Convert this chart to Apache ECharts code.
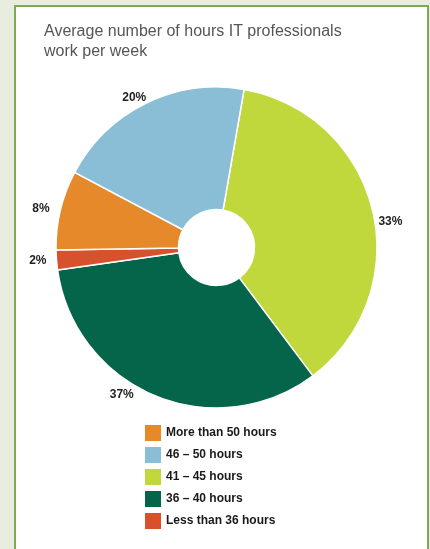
<!DOCTYPE html>
<html>
<head>
<meta charset="utf-8">
<script src="https://cdn.jsdelivr.net/npm/echarts@6/dist/echarts.min.js"></script>
<style>
  html, body { margin: 0; padding: 0; background: #e9eddf; width: 430px; height: 549px; overflow: hidden; }
  #panel { position: absolute; left: 14px; top: 5px; width: 411px; height: 560px; background: #ffffff; border: 2px solid #7bab54; }
  #chart { position: absolute; left: 0; top: 0; width: 430px; height: 549px; }
</style>
</head>
<body>
<div id="panel"></div>
<div id="chart"></div>
<script>
// Slices in clockwise order starting near 12 o'clock
const categories = ['41 – 45 hours', '36 – 40 hours', 'Less than 36 hours', 'More than 50 hours', '46 – 50 hours'];
const values = [37, 33, 2, 8, 20];
const labelTexts = ['33%', '37%', '2%', '8%', '20%'];
const colors = ['#c0d83b', '#05654a', '#d8512d', '#e5892a', '#8abed6'];
const legendOrder = ['More than 50 hours', '46 – 50 hours', '41 – 45 hours', '36 – 40 hours', 'Less than 36 hours'];

const FONT = '"Liberation Sans", Arial, Helvetica, sans-serif';
const labelNudge = [[-5, 13], [-14, -7], [1, 0], [0, 0], [8, 0]];

const chart = echarts.init(document.getElementById('chart'), null, { renderer: 'canvas' });
chart.setOption({
  backgroundColor: 'transparent',
  animation: false,
  title: {
    text: 'Average number of hours IT professionals\nwork per week',
    left: 44,
    top: 22,
    padding: 0,
    textStyle: { color: '#555658', fontSize: 16, fontWeight: 'normal', fontFamily: FONT, lineHeight: 20 }
  },
  legend: {
    orient: 'vertical',
    left: 145,
    top: 425,
    padding: 0,
    itemWidth: 16,
    itemHeight: 16,
    itemGap: 6,
    icon: 'rect',
    itemStyle: { borderWidth: 0 },
    data: legendOrder,
    textStyle: { color: '#1a1a1a', fontSize: 12, fontWeight: 'bold', fontFamily: FONT }
  },
  series: [{
    type: 'pie',
    center: [216.5, 247.5],
    radius: [38, 160.5],
    startAngle: 80.1,
    clockwise: true,
    avoidLabelOverlap: false,
    itemStyle: { borderColor: '#ffffff', borderWidth: 1.5 },
    label: {
      show: true,
      position: 'outside',
      formatter: p => labelTexts[p.dataIndex],
      color: '#222222',
      fontSize: 12,
      fontWeight: 'bold',
      fontFamily: FONT
    },
    labelLine: { show: false, length: 6, length2: 0 },
    labelLayout: p => ({ dx: labelNudge[p.dataIndex][0], dy: labelNudge[p.dataIndex][1] }),
    emphasis: { disabled: true },
    data: categories.map((c, i) => ({ name: c, value: values[i], itemStyle: { color: colors[i] } }))
  }]
});
</script>
</body>
</html>
